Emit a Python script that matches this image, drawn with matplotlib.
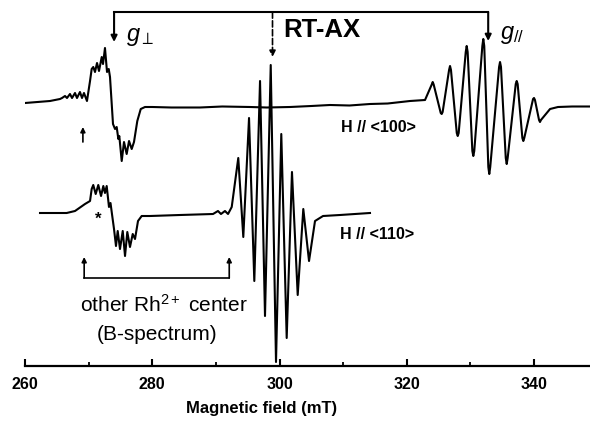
import numpy as np
import matplotlib
matplotlib.use('Agg')
import matplotlib.pyplot as plt

plt.rcParams['font.family'] = ['Liberation Sans', 'DejaVu Sans']
plt.rcParams['mathtext.fontset'] = 'custom'
plt.rcParams['mathtext.rm'] = 'Liberation Sans'
plt.rcParams['mathtext.it'] = 'Liberation Sans:italic'
plt.rcParams['mathtext.bf'] = 'Liberation Sans:bold'

# H // <100> spectrum (field in mT, intensity in arb. units)
field_100 = [260.00, 263.93, 265.50, 265.82, 266.29, 266.60, 267.07, 267.39, 267.86, 268.17,
             268.64, 268.96, 269.27, 269.74, 270.22, 270.48, 270.73, 271.00, 271.32, 271.63,
             272.06, 272.26, 272.57, 272.89, 273.16, 273.36, 273.83, 274.15, 274.41, 274.67,
             274.82, 275.20, 275.56, 275.98, 276.35, 276.77, 277.13, 277.65, 278.19, 278.86,
             280.00, 283.00, 287.50, 291.00, 295.36, 298.00, 301.65, 305.00, 307.94, 311.00,
             314.22, 317.00, 320.51, 322.87, 323.93, 324.08, 324.23, 325.34, 325.49, 325.64,
             326.65, 326.80, 326.95, 327.86, 328.01, 328.16, 329.27, 329.42, 329.57, 330.31,
             330.46, 330.61, 331.88, 332.03, 332.18, 332.82, 332.97, 333.12, 334.51, 334.66,
             334.81, 335.56, 335.71, 335.86, 337.13, 337.28, 337.43, 338.17, 338.32, 338.47,
             339.85, 340.00, 340.15, 340.79, 340.94, 341.09, 342.52, 343.77, 346.00, 348.80]
signal_100 = [4, 6, 8, 9, 11, 9, 13, 9, 14, 9,
              15, 9, 14, 6, 26, 38, 40, 35, 44, 36,
              50, 43, 59, 35, 38, 30, -17, -22, -20, -32,
              -29, -54, -35, -47, -34, -42, -35, -14, -2, 0,
              0, -0.5, -0.5, 0.5, 0, -0.5, 0, 1, 2, 1.5,
              3, 3.5, 6, 7, 22.5, 25, 22.5, -6, -7, -5,
              37, 41, 37, -26, -29, -26, 55, 61, 55, -44,
              -49, -44, 61, 68, 61, -60, -67, -60, 40, 45,
              40, -51, -57, -51, 23, 26, 23, -31, -34, -31,
              8, 9, 7, -13, -15, -13, -2, 0, 0.5, 0.5]

# H // <110> spectrum
field_110 = [262.36, 266.55, 267.86, 269.43, 270.22, 270.48, 270.73, 271.11, 271.52, 271.95,
             272.31, 272.57, 272.84, 273.20, 273.44, 273.67, 273.99, 274.30, 274.57, 274.93,
             275.36, 275.72, 276.08, 276.50, 276.93, 277.29, 277.76, 278.34, 279.65, 284.36,
             289.55, 290.33, 290.80, 291.43, 291.91, 292.49, 293.52, 294.31, 295.21, 296.04,
             296.94, 297.72, 298.62, 299.45, 300.28, 301.13, 301.96, 302.86, 303.74, 304.64,
             305.58, 306.84, 309.51, 314.22]
signal_110 = [2, 2, 4, 11, 14, 26, 30, 21, 30, 19,
              29, 22, 29, 8, 12, 1, -14, -31, -16, -34,
              -16, -41, -17, -32, -19, -24, -6, -1, -1, 0,
              1, 4, 1, 4, 1, 8, 57, -22, 97, -66,
              134, -101, 150, -147, 81, -123, 43, -80, 6, -46,
              -6, -1, 0, 2]

offset_100 = 259
offset_110 = 151

g_perp = 274.0
g_par = 332.8
g_center = 298.9
b_left = 269.3
b_right = 292.1

fig = plt.figure(figsize=(5.9, 4.27), dpi=100)
ax = fig.add_axes([25 / 590, 60 / 427, 565 / 590, 367 / 427])

ax.plot(field_100, np.array(signal_100) + offset_100, color='black', lw=1.5)
ax.plot(field_110, np.array(signal_110) + offset_110, color='black', lw=1.5)

ax.set_xlim(260, 348.8)
ax.set_ylim(0, 367)

for s in ['left', 'top', 'right']:
    ax.spines[s].set_visible(False)
ax.spines['bottom'].set_linewidth(1.6)
ax.set_yticks([])
ax.set_xticks([260, 280, 300, 320, 340])
ax.set_xticks([270, 290, 310, 330], minor=True)
ax.tick_params(axis='x', which='major', direction='in', length=5, width=1.5, pad=7,
               labelsize=11.5)
ax.tick_params(axis='x', which='minor', direction='in', length=3, width=1.3)
for lab in ax.get_xticklabels():
    lab.set_fontweight('bold')
ax.set_xlabel('Magnetic field (mT)', fontsize=12, fontweight='bold')
ax.xaxis.set_label_coords(0.4195, -0.092)

# bracket at top
top_y = 354
ax.plot([g_perp, g_par], [top_y, top_y], color='black', lw=1.5)
arrow = dict(arrowstyle='-|>', color='black', lw=1.5, mutation_scale=9, shrinkA=0, shrinkB=0)
ax.annotate('', xy=(g_perp, 324), xytext=(g_perp, top_y), arrowprops=arrow)
ax.annotate('', xy=(g_par, 325), xytext=(g_par, top_y), arrowprops=arrow)
ax.annotate('', xy=(g_center, 309), xytext=(g_center, top_y),
            arrowprops=dict(arrowstyle='-|>', color='black', lw=1.2, ls='--',
                            mutation_scale=9, shrinkA=0, shrinkB=0))

ax.text(275.9, 330, r'$g_{\perp}$', fontsize=17, va='center', ha='left')
ax.text(334.6, 332, r'$g_{//}$', fontsize=17, va='center', ha='left')
ax.text(306.6, 337, 'RT-AX', fontsize=18.5, fontweight='bold', ha='center', va='center')

ax.text(315.6, 240, 'H // <100>', fontsize=11.5, fontweight='bold', ha='center', va='center')
ax.text(315.3, 132.5, 'H // <110>', fontsize=11.5, fontweight='bold', ha='center', va='center')

# small arrow under the top trace
small = dict(arrowstyle='-|>', color='black', lw=1.2, mutation_scale=7, shrinkA=0, shrinkB=0)
ax.annotate('', xy=(269.1, 239), xytext=(269.1, 224), arrowprops=small)

ax.text(271.5, 148, '*', fontsize=12, fontweight='bold', ha='center', va='center')

# B-spectrum bracket
ax.plot([b_left, b_right], [88, 88], color='black', lw=1.2)
ax.annotate('', xy=(b_left, 109), xytext=(b_left, 88), arrowprops=small)
ax.annotate('', xy=(b_right, 109), xytext=(b_right, 88), arrowprops=small)

ax.text(281.85, 62, 'other Rh$^{2+}$ center', fontsize=15, ha='center', va='center')
ax.text(280.7, 33, '(B-spectrum)', fontsize=15, ha='center', va='center')

fig.savefig('out.png', dpi=100)
